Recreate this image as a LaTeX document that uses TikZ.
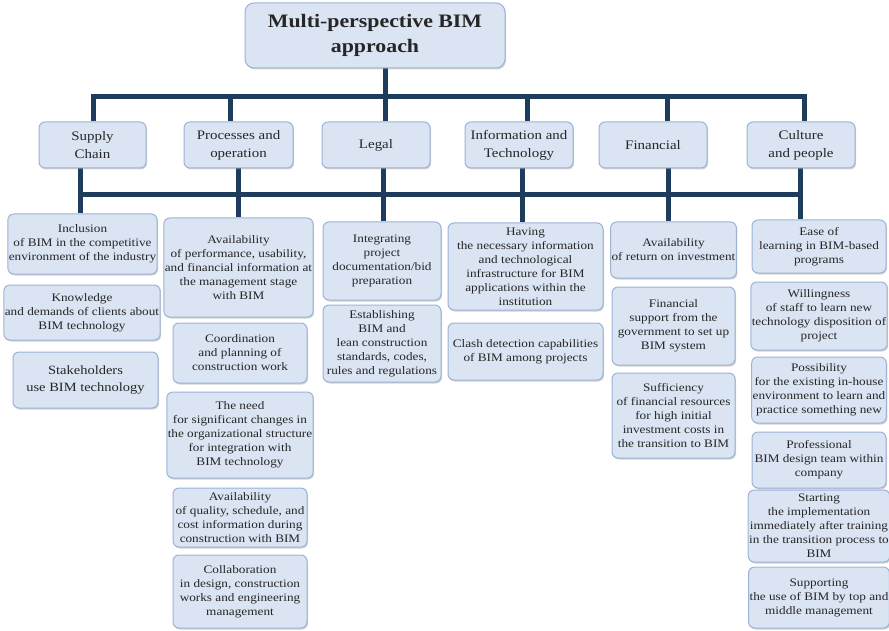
\documentclass[tikz,border=0pt]{standalone}
\usepackage{fontspec}
\setmainfont{Liberation Serif}[FakeStretch=1.15]
\usetikzlibrary{shadows,backgrounds}

\definecolor{boxfill}{HTML}{DAE4F3}
\definecolor{boxline}{HTML}{9CB3D6}
\definecolor{barblue}{HTML}{1E3D5C}

\tikzset{
  itembox/.style={draw=boxline, fill=boxfill, line width=1pt, rounded corners=6pt,
    align=center, inner sep=1pt, text=black!85, font=\fontsize{11.5}{14}\selectfont,
    drop shadow={shadow xshift=1pt, shadow yshift=-1.5pt, opacity=.35}},
  titlebox/.style={itembox, rounded corners=9pt, font=\bfseries\fontsize{19}{25}\selectfont},
  headbox/.style={itembox, font=\fontsize{13}{18}\selectfont},
  wh/.style 2 args={minimum width=#1pt, minimum height=#2pt},
  link/.style={draw=barblue, line width=5pt},
}

\begin{document}
\begin{tikzpicture}[x=1pt, y=-1pt]
    \useasboundingbox (0,0) rectangle (889,631);

    % root and the six perspectives
    \node[titlebox, wh={260}{65}] (title) at (375,35.5) {Multi-perspective BIM\\approach};

    \node[headbox, wh={107}{46}] (hsc) at (92.5,145) {Supply\\Chain};
    \node[headbox, wh={109}{46}] (hpo) at (238.5,145) {Processes and\\operation};
    \node[headbox, wh={108}{46}] (hle) at (376,145) {Legal};
    \node[headbox, wh={108}{46}] (hit) at (519,145) {Information and\\Technology};
    \node[headbox, wh={108}{46}] (hfi) at (653,145) {Financial};
    \node[headbox, wh={108}{46}] (hcp) at (801,145) {Culture\\and people};

    % supply chain
    \node[itembox, wh={149}{60}] (sc1) at (82.5,244) {Inclusion\\of BIM in the competitive\\environment of the industry};
    \node[itembox, wh={148}{55}] (sc2) at (82,312.5) {Knowledge\\and demands of clients about\\BIM technology};
    \node[itembox, wh={145}{56}, font=\fontsize{12.6}{17}\selectfont] (sc3) at (85.5,380) {Stakeholders\\use BIM technology};

    % processes and operation
    \node[itembox, wh={139}{99}] (po1) at (238.5,267.5) {Availability\\of performance, usability,\\and financial information at\\the management stage\\with BIM};
    \node[itembox, wh={134}{60}] (po2) at (240,353) {Coordination\\and planning of\\construction work};
    \node[itembox, wh={134}{86}] (po3) at (240,435) {The need\\for significant changes in\\the organizational structure\\for integration with\\BIM technology};
    \node[itembox, wh={134}{59}] (po4) at (240,517.5) {Availability\\of quality, schedule, and\\cost information during\\construction with BIM};
    \node[itembox, wh={134}{73}] (po5) at (240,591.5) {Collaboration\\in design, construction\\works and engineering\\management};

    % legal
    \node[itembox, wh={118}{78}] (le1) at (382,261) {Integrating\\project\\documentation/bid\\preparation};
    \node[itembox, wh={118}{77}] (le2) at (382,343.5) {Establishing\\BIM and\\lean construction\\standards, codes,\\rules and regulations};

    % information and technology
    \node[itembox, wh={155}{87}] (it1) at (525.5,266.5) {Having\\the necessary information\\and technological\\infrastructure for BIM\\applications within the\\institution};
    \node[itembox, wh={155}{57}] (it2) at (525.5,351.5) {Clash detection capabilities\\of BIM among projects};

    % financial
    \node[itembox, wh={123}{56}] (fi1) at (673.5,250) {Availability\\of return on investment};
    \node[itembox, wh={123}{78}] (fi2) at (673.5,326) {Financial\\support from the\\government to set up\\BIM system};
    \node[itembox, wh={123}{85}] (fi3) at (673.5,415.5) {Sufficiency\\of financial resources\\for high initial\\investment costs in\\the transition to BIM};

    % culture and people
    \node[itembox, wh={134}{53}] (cp1) at (819,246.5) {Ease of\\learning in BIM-based\\programs};
    \node[itembox, wh={134}{68}] (cp2) at (819,316) {Willingness\\of staff to learn new\\technology disposition of\\project};
    \node[itembox, wh={134}{66}] (cp3) at (819,390) {Possibility\\for the existing in-house\\environment to learn and\\practice something new};
    \node[itembox, wh={134}{56}] (cp4) at (819,460) {Professional\\BIM design team within\\company};
    \node[itembox, wh={134}{72}] (cp5) at (819,526) {Starting\\the implementation\\immediately after training\\in the transition process to\\BIM};
    \node[itembox, wh={134}{61}] (cp6) at (819,597.5) {Supporting\\the use of BIM by top and\\middle management};

    % the two bus bars
    \coordinate (topbar) at (0,97);
    \coordinate (lowbar) at (0,195);
    \begin{scope}[on background layer]
        \draw[link] ([xshift=10pt]title.south) -- ([xshift=10pt]title.south |- topbar);
        \draw[link] ([xshift=.5pt]hsc.north) -- ([xshift=.5pt]hsc.north |- topbar)
            -- ([xshift=3pt]hcp.north |- topbar) -- ([xshift=3pt]hcp.north);
        \foreach \h/\d in {hpo/-8.5, hle/9, hit/8, hfi/14}
            \draw[link] ([xshift=\d pt]\h.north) -- ([xshift=\d pt]\h.north |- topbar);

        \draw[link, line cap=rect] ([xshift=-12.5pt]hsc.south |- lowbar) -- ([xshift=-1pt]hcp.south |- lowbar);
        \foreach \h/\c/\d in {hsc/sc1/-12.5, hpo/po1/-.5, hle/le1/7, hit/it1/3, hfi/fi1/15, hcp/cp1/-1}
            \draw[link] ([xshift=\d pt]\h.south) -- ([xshift=\d pt]\h.south |- \c.north);
    \end{scope}
\end{tikzpicture}
\end{document}
